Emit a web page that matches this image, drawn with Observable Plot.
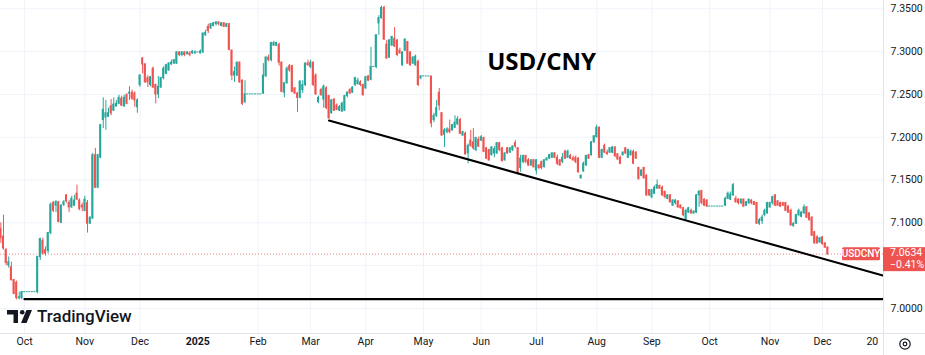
<!DOCTYPE html>
<html>
<head>
<meta charset="utf-8">
<script src="https://cdn.jsdelivr.net/npm/d3@7"></script>
<script src="https://cdn.jsdelivr.net/npm/@observablehq/plot@0.6"></script>
<style>
  html, body { margin: 0; padding: 0; background: #ffffff; }
  #chart { position: relative; width: 925px; height: 355px; overflow: hidden; background: #ffffff; }
  #chart svg { position: absolute; left: 0; top: 0; }
</style>
</head>
<body>
<div id="chart"></div>
<script>
// ---------- DATA (daily USD/CNY candles, weekdays from 2024-09-18) ----------
const symbol = "USDCNY";
const title = "USD/CNY";
const firstBarDate = "2024-09-18";
const lastPrice = 7.0634;
const changeText = "\u22120.41%";

const opens = [
7.093,7.084,7.068,7.050,7.048,7.033,7.030,7.012,7.012,7.019,
7.019,7.019,7.019,7.019,7.019,7.060,7.079,7.068,7.067,7.088,
7.123,7.120,7.124,7.100,7.121,7.132,7.123,7.118,7.120,7.134,
7.126,7.120,7.114,7.123,7.099,7.105,7.179,7.141,7.176,7.220,
7.223,7.224,7.236,7.231,7.236,7.239,7.245,7.236,7.249,7.251,
7.252,7.251,7.235,7.261,7.292,7.285,7.269,7.261,7.280,7.261,
7.250,7.258,7.269,7.274,7.278,7.285,7.286,7.286,7.299,7.296,
7.299,7.297,7.298,7.298,7.298,7.299,7.298,7.299,7.319,7.329,
7.327,7.330,7.332,7.334,7.330,7.333,7.329,7.332,7.301,7.272,
7.272,7.287,7.266,7.241,7.250,7.250,7.250,7.250,7.250,7.250,
7.251,7.271,7.293,7.290,7.307,7.307,7.308,7.287,7.252,7.263,
7.283,7.283,7.257,7.251,7.246,7.255,7.261,7.286,7.282,7.287,
7.272,7.241,7.255,7.244,7.257,7.248,7.228,7.244,7.237,7.231,
7.230,7.231,7.248,7.255,7.252,7.261,7.262,7.264,7.261,7.257,
7.271,7.267,7.282,7.282,7.333,7.339,7.351,7.308,7.293,7.307,
7.315,7.313,7.301,7.284,7.301,7.311,7.299,7.286,7.284,7.288,
7.269,7.271,7.271,7.271,7.271,7.220,7.225,7.252,7.228,7.203,
7.206,7.209,7.208,7.211,7.215,7.220,7.202,7.204,7.181,7.196,
7.194,7.185,7.197,7.196,7.199,7.187,7.185,7.179,7.181,7.181,
7.193,7.187,7.173,7.187,7.182,7.185,7.193,7.187,7.164,7.171,
7.178,7.173,7.167,7.173,7.161,7.167,7.171,7.165,7.173,7.175,
7.176,7.181,7.176,7.173,7.171,7.183,7.176,7.178,7.175,7.176,
7.175,7.152,7.160,7.167,7.179,7.179,7.194,7.200,7.211,7.176,
7.190,7.182,7.182,7.182,7.188,7.180,7.176,7.179,7.187,7.176,
7.179,7.183,7.182,7.164,7.155,7.164,7.155,7.138,7.130,7.134,
7.140,7.143,7.141,7.136,7.128,7.132,7.120,7.123,7.125,7.120,
7.117,7.104,7.112,7.114,7.111,7.112,7.132,7.137,7.127,7.126,
7.119,7.119,7.119,7.119,7.119,7.119,7.120,7.128,7.127,7.132,
7.128,7.127,7.123,7.127,7.120,7.123,7.126,7.124,7.123,7.099,
7.102,7.109,7.111,7.118,7.123,7.132,7.125,7.123,7.123,7.123,
7.119,7.114,7.096,7.099,7.109,7.107,7.111,7.118,7.111,7.106,
7.089,7.083,7.077,7.083,7.076,7.071];

const highs = [
7.100,7.109,7.070,7.060,7.054,7.034,7.032,7.019,7.020,7.019,
7.019,7.019,7.019,7.019,7.061,7.082,7.082,7.072,7.089,7.123,
7.125,7.126,7.125,7.121,7.126,7.133,7.126,7.131,7.132,7.144,
7.128,7.123,7.131,7.126,7.107,7.181,7.187,7.180,7.215,7.246,
7.243,7.234,7.244,7.246,7.243,7.249,7.248,7.249,7.251,7.259,
7.255,7.253,7.245,7.273,7.293,7.286,7.272,7.271,7.282,7.262,
7.271,7.270,7.282,7.285,7.287,7.290,7.291,7.300,7.300,7.300,
7.300,7.300,7.300,7.301,7.301,7.299,7.302,7.322,7.325,7.332,
7.333,7.334,7.335,7.335,7.334,7.334,7.333,7.333,7.302,7.282,
7.288,7.288,7.267,7.266,7.250,7.250,7.250,7.250,7.250,7.250,
7.286,7.294,7.296,7.311,7.312,7.311,7.310,7.288,7.264,7.282,
7.285,7.284,7.258,7.252,7.266,7.266,7.287,7.290,7.290,7.288,
7.274,7.248,7.257,7.261,7.259,7.249,7.244,7.245,7.239,7.237,
7.241,7.249,7.253,7.257,7.259,7.270,7.269,7.266,7.262,7.271,
7.272,7.305,7.282,7.320,7.342,7.353,7.353,7.313,7.314,7.318,
7.328,7.314,7.304,7.300,7.315,7.312,7.300,7.294,7.296,7.290,
7.272,7.271,7.271,7.271,7.271,7.228,7.243,7.257,7.229,7.210,
7.211,7.220,7.215,7.225,7.224,7.222,7.207,7.206,7.192,7.208,
7.210,7.200,7.200,7.202,7.200,7.188,7.186,7.189,7.189,7.194,
7.194,7.188,7.182,7.188,7.188,7.190,7.196,7.188,7.179,7.179,
7.179,7.175,7.174,7.174,7.174,7.168,7.172,7.174,7.176,7.180,
7.182,7.182,7.179,7.174,7.181,7.185,7.185,7.180,7.178,7.178,
7.176,7.156,7.171,7.179,7.180,7.195,7.202,7.214,7.212,7.186,
7.192,7.185,7.188,7.189,7.189,7.181,7.178,7.183,7.188,7.186,
7.185,7.185,7.183,7.165,7.162,7.165,7.156,7.139,7.139,7.143,
7.150,7.144,7.143,7.137,7.133,7.133,7.127,7.127,7.126,7.121,
7.118,7.116,7.118,7.116,7.114,7.133,7.138,7.138,7.128,7.127,
7.119,7.119,7.119,7.119,7.119,7.119,7.130,7.136,7.136,7.146,
7.131,7.128,7.128,7.128,7.125,7.128,7.127,7.125,7.124,7.105,
7.109,7.116,7.124,7.124,7.131,7.133,7.126,7.124,7.124,7.124,
7.120,7.116,7.100,7.110,7.116,7.113,7.121,7.119,7.112,7.107,
7.090,7.085,7.083,7.084,7.077,7.072];

const lows = [
7.076,7.068,7.050,7.047,7.032,7.016,7.010,7.010,7.010,7.019,
7.019,7.019,7.019,7.019,7.017,7.056,7.062,7.061,7.064,7.086,
7.112,7.112,7.100,7.099,7.119,7.123,7.112,7.117,7.119,7.126,
7.114,7.113,7.113,7.088,7.098,7.104,7.140,7.140,7.175,7.210,
7.208,7.223,7.225,7.230,7.235,7.238,7.236,7.235,7.238,7.243,
7.243,7.235,7.228,7.258,7.274,7.263,7.258,7.259,7.257,7.239,
7.245,7.257,7.267,7.273,7.277,7.284,7.285,7.285,7.294,7.294,
7.294,7.296,7.294,7.297,7.297,7.299,7.297,7.298,7.318,7.321,
7.326,7.329,7.330,7.330,7.329,7.328,7.328,7.301,7.266,7.264,
7.271,7.263,7.237,7.239,7.250,7.250,7.250,7.250,7.250,7.250,
7.250,7.270,7.288,7.288,7.306,7.306,7.283,7.252,7.246,7.262,
7.276,7.252,7.250,7.229,7.245,7.251,7.259,7.283,7.280,7.259,
7.249,7.239,7.248,7.234,7.232,7.221,7.227,7.230,7.231,7.230,
7.229,7.230,7.246,7.250,7.251,7.259,7.261,7.259,7.248,7.256,
7.265,7.266,7.282,7.280,7.319,7.338,7.313,7.291,7.292,7.306,
7.305,7.294,7.297,7.283,7.300,7.285,7.283,7.285,7.283,7.259,
7.267,7.271,7.271,7.271,7.211,7.217,7.223,7.231,7.201,7.188,
7.204,7.204,7.207,7.210,7.214,7.203,7.201,7.179,7.169,7.188,
7.185,7.183,7.188,7.195,7.182,7.174,7.172,7.178,7.176,7.180,
7.183,7.171,7.172,7.180,7.181,7.183,7.187,7.156,7.159,7.169,
7.169,7.166,7.166,7.164,7.156,7.162,7.162,7.164,7.172,7.174,
7.175,7.175,7.167,7.166,7.169,7.174,7.175,7.174,7.172,7.169,
7.158,7.151,7.159,7.166,7.174,7.178,7.193,7.199,7.175,7.175,
7.181,7.179,7.181,7.181,7.176,7.173,7.168,7.178,7.180,7.175,
7.178,7.168,7.174,7.150,7.154,7.151,7.131,7.131,7.128,7.133,
7.139,7.139,7.131,7.128,7.127,7.123,7.119,7.121,7.117,7.116,
7.107,7.103,7.111,7.110,7.110,7.111,7.118,7.121,7.119,7.118,
7.119,7.119,7.119,7.119,7.119,7.119,7.119,7.127,7.126,7.131,
7.123,7.121,7.121,7.118,7.119,7.121,7.121,7.120,7.098,7.097,
7.098,7.107,7.110,7.117,7.121,7.119,7.119,7.118,7.119,7.113,
7.111,7.096,7.095,7.098,7.107,7.106,7.110,7.105,7.102,7.084,
7.075,7.075,7.076,7.074,7.070,7.062];

const closes = [
7.082,7.070,7.053,7.054,7.033,7.017,7.012,7.013,7.019,7.019,
7.019,7.019,7.019,7.019,7.060,7.081,7.064,7.064,7.088,7.121,
7.114,7.124,7.101,7.120,7.124,7.125,7.118,7.128,7.126,7.127,
7.116,7.118,7.127,7.099,7.106,7.179,7.141,7.179,7.214,7.232,
7.228,7.228,7.228,7.238,7.239,7.246,7.237,7.246,7.239,7.252,
7.245,7.243,7.243,7.272,7.285,7.264,7.264,7.270,7.258,7.250,
7.259,7.269,7.280,7.284,7.286,7.287,7.290,7.299,7.296,7.299,
7.296,7.299,7.296,7.300,7.299,7.299,7.300,7.321,7.322,7.324,
7.332,7.333,7.334,7.332,7.333,7.329,7.332,7.302,7.272,7.276,
7.287,7.264,7.239,7.250,7.250,7.250,7.250,7.250,7.250,7.250,
7.272,7.293,7.290,7.310,7.310,7.310,7.287,7.253,7.263,7.280,
7.278,7.253,7.251,7.246,7.265,7.261,7.286,7.284,7.287,7.261,
7.250,7.246,7.249,7.259,7.234,7.222,7.243,7.231,7.232,7.235,
7.239,7.248,7.252,7.251,7.258,7.269,7.266,7.261,7.249,7.270,
7.266,7.282,7.282,7.319,7.339,7.351,7.314,7.292,7.313,7.317,
7.306,7.296,7.298,7.299,7.314,7.286,7.284,7.293,7.294,7.261,
7.271,7.271,7.271,7.271,7.216,7.225,7.234,7.237,7.202,7.208,
7.209,7.206,7.214,7.217,7.221,7.204,7.206,7.180,7.190,7.190,
7.187,7.199,7.189,7.200,7.183,7.175,7.173,7.188,7.186,7.193,
7.185,7.172,7.181,7.181,7.187,7.189,7.189,7.158,7.175,7.178,
7.171,7.167,7.173,7.165,7.173,7.164,7.164,7.173,7.175,7.179,
7.181,7.176,7.169,7.167,7.176,7.175,7.183,7.175,7.173,7.171,
7.159,7.155,7.169,7.178,7.175,7.194,7.201,7.211,7.176,7.185,
7.182,7.180,7.187,7.188,7.178,7.174,7.169,7.182,7.181,7.185,
7.183,7.169,7.175,7.151,7.161,7.152,7.132,7.132,7.138,7.141,
7.144,7.140,7.132,7.130,7.132,7.124,7.126,7.126,7.118,7.117,
7.109,7.114,7.117,7.111,7.113,7.132,7.136,7.123,7.120,7.119,
7.119,7.119,7.119,7.119,7.119,7.119,7.128,7.134,7.133,7.144,
7.124,7.123,7.127,7.119,7.124,7.127,7.123,7.121,7.099,7.103,
7.106,7.114,7.123,7.123,7.130,7.120,7.120,7.119,7.120,7.114,
7.112,7.097,7.099,7.109,7.114,7.112,7.118,7.106,7.103,7.085,
7.076,7.076,7.082,7.075,7.071,7.0634];

const tickDates  = ["2024-10-01","2024-11-01","2024-12-01","2025-01-01","2025-02-01","2025-03-01","2025-04-01","2025-05-01","2025-06-01","2025-07-01","2025-08-01","2025-09-01","2025-10-01","2025-11-01","2025-12-01","2025-12-20"];
const tickLabels = ["Oct","Nov","Dec","2025","Feb","Mar","Apr","May","Jun","Jul","Aug","Sep","Oct","Nov","Dec","20"];
const gridDates  = ["2024-10-01","2024-11-01","2024-12-01","2025-02-01","2025-03-01","2025-04-01","2025-05-01","2025-06-01","2025-07-01","2025-08-01","2025-09-01","2025-10-01","2025-11-01","2025-12-01"];
const priceLabels = [7.00, 7.10, 7.15, 7.20, 7.25, 7.30, 7.35];
const gridPrices  = [7.00, 7.05, 7.10, 7.15, 7.20, 7.25, 7.30, 7.35];

// drawn trend lines: [date, price]
const supportLine = [["2024-10-01", 7.0108], ["2025-12-24", 7.0108]];
const trendLine   = [["2025-03-12", 7.2195], ["2025-12-24", 7.0385]];
const titleAt     = ["2025-07-03", 7.2875];

// ---------- helpers ----------
const UP = "#26a69a", DOWN = "#ef5350", INK = "#131722";
const GRID = "#f0f3fa", RULE = "#e0e3eb";
const DAY = 864e5;
const dates = [];
for (let t = Date.parse(firstBarDate); dates.length < closes.length; t += DAY) {
  const wd = new Date(t).getUTCDay();
  if (wd !== 0 && wd !== 6) dates.push(t);
}
const lastK = dates.length - 1;
function pos(s) {
  const t = Date.parse(s);
  const k = dates.findIndex(d => d >= t);
  return k >= 0 ? k : lastK + Math.round((t - dates[lastK]) / DAY);
}
const bars = closes.map((c, k) => ({
  k, open: opens[k], high: highs[k], low: lows[k], close: c,
  color: c >= opens[k] ? UP : DOWN
}));
const ticks = tickDates.map((d, i) => ({k: pos(d), label: tickLabels[i], year: /^\d{4}$/.test(tickLabels[i])}));
const gridK = gridDates.map(pos);
const lineRows = pts => pts.map(([d, p]) => ({k: pos(d), price: p}));

const font = "Roboto, 'Noto Sans', sans-serif";

const chart = Plot.plot({
  width: 925,
  height: 355,
  marginLeft: 0,
  marginRight: 42,
  marginTop: 0,
  marginBottom: 22,
  x: {type: "linear", domain: [-0.14, 336.24], axis: null},
  y: {domain: [6.9707, 7.3597], axis: null},
  color: {type: "identity"},
  style: {fontFamily: font, fontSize: "10.5px", color: INK, background: "#ffffff", overflow: "visible"},
  marks: [
    Plot.ruleY(gridPrices, {y: d => d, stroke: GRID, strokeWidth: 1}),
    Plot.ruleX(gridK, {x: d => d, stroke: GRID, strokeWidth: 1}),
    Plot.ruleY([lastPrice], {y: d => d, stroke: DOWN, strokeOpacity: 0.7, strokeDasharray: "1,2"}),
    Plot.ruleX(bars, {x: "k", y1: "low", y2: "high", stroke: "color", strokeWidth: 1}),
    Plot.rect(bars, {x1: d => d.k - 0.38, x2: d => d.k + 0.38, y1: "open", y2: "close", fill: "color", insetTop: -0.5, insetBottom: -0.5}),
    Plot.line(lineRows(supportLine), {x: "k", y: "price", stroke: "#000000", strokeWidth: 2.2}),
    Plot.line(lineRows(trendLine), {x: "k", y: "price", stroke: "#000000", strokeWidth: 2}),
    Plot.text([{k: pos(titleAt[0]), price: titleAt[1], t: title}], {
      x: "k", y: "price", text: "t", fontSize: 24, fontWeight: 700,
      fontFamily: "'Open Sans', sans-serif", fill: "#000000", textAnchor: "middle"
    }),
    Plot.text(priceLabels, {y: d => d, text: d => d.toFixed(4), frameAnchor: "right", textAnchor: "start", dx: 7, fill: INK, fontSize: 10.5}),
    Plot.text(ticks.filter(d => !d.year), {x: "k", text: "label", frameAnchor: "bottom", dy: 11, fill: INK, fontSize: 10.5}),
    Plot.text(ticks.filter(d => d.year), {x: "k", text: "label", frameAnchor: "bottom", dy: 11, fill: INK, fontSize: 10.5, fontWeight: 700})
  ]
});
document.getElementById("chart").append(chart);

// ---------- overlay: separators, price labels, logo ----------
const py = chart.scale("y").apply(lastPrice);
const ov = d3.create("svg").attr("width", 925).attr("height", 355)
  .style("font-family", font);
ov.append("line").attr("x1", 0).attr("x2", 925).attr("y1", 333.5).attr("y2", 333.5).attr("stroke", RULE);
ov.append("line").attr("x1", 883.5).attr("x2", 883.5).attr("y1", 0).attr("y2", 355).attr("stroke", RULE);

// symbol label on chart
ov.append("rect").attr("x", 842).attr("y", py - 6.5).attr("width", 38).attr("height", 13).attr("rx", 1.5).attr("fill", DOWN);
ov.append("text").attr("x", 861).attr("y", py + 0.5).attr("text-anchor", "middle").attr("dominant-baseline", "middle")
  .attr("fill", "#fff").attr("font-size", 10).attr("font-weight", 500).text(symbol);
// price box on axis
ov.append("rect").attr("x", 883).attr("y", py - 6.5).attr("width", 42).attr("height", 24).attr("fill", DOWN);
ov.append("text").attr("x", 890).attr("y", py).attr("dominant-baseline", "middle")
  .attr("fill", "#fff").attr("font-size", 10.5).text(lastPrice.toFixed(4));
ov.append("text").attr("x", 890).attr("y", py + 11.5).attr("dominant-baseline", "middle")
  .attr("fill", "#fff").attr("font-size", 10.5).text(changeText);

// TradingView logo
const lg = ov.append("g").attr("transform", "translate(7,310)").attr("fill", INK);
lg.append("path").attr("d", "M0 0H11V13H6.5V4.4H0Z");
lg.append("circle").attr("cx", 15.2).attr("cy", 2.3).attr("r", 2.3);
lg.append("path").attr("d", "M19.5 0H25L19.5 13H14Z");
ov.append("text").attr("x", 37).attr("y", 322).attr("fill", INK)
  .attr("font-size", 17).attr("font-weight", 500).text("TradingView");

// settings icon
ov.append("circle").attr("cx", 905).attr("cy", 344).attr("r", 5.2).attr("fill", "none").attr("stroke", INK).attr("stroke-width", 1.2);
ov.append("circle").attr("cx", 905).attr("cy", 344).attr("r", 1.8).attr("fill", "none").attr("stroke", INK).attr("stroke-width", 1.2);

document.getElementById("chart").append(ov.node());
</script>
</body>
</html>
